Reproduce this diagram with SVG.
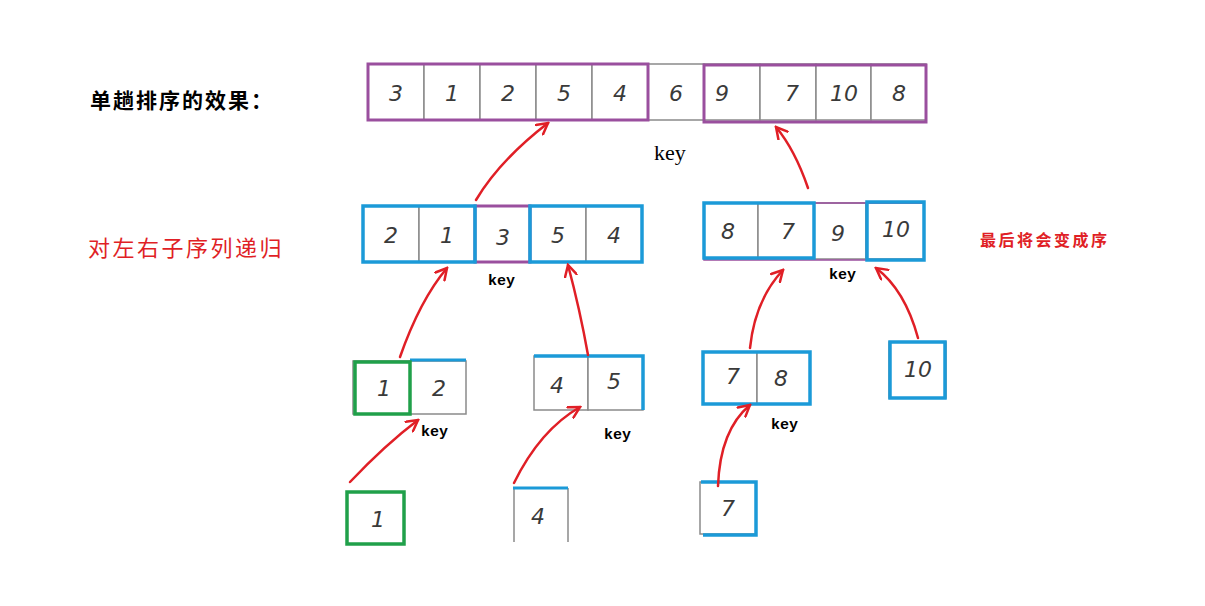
<svg xmlns="http://www.w3.org/2000/svg" width="1205" height="606" viewBox="0 0 1205 606">
<defs>
<style>
.c{fill:#fff;stroke:#8a8a8a;stroke-width:1.5}
.n{font-family:"DejaVu Sans","Liberation Sans",sans-serif;font-size:22px;fill:#3a3a3a;text-anchor:middle;font-style:italic}
.pu{fill:none;stroke:#9a4f9e;stroke-width:3}
.pt{fill:none;stroke:#9a4f9e;stroke-width:1.5}
.bl{fill:none;stroke:#1b9ad8;stroke-width:3.5}
.gr{fill:none;stroke:#20a04a;stroke-width:3.5}
.k{font-family:"Liberation Mono","DejaVu Sans Mono",monospace;font-weight:bold;font-size:15px;fill:#000}
.a{fill:none;stroke:#e01f26;stroke-width:2.5;stroke-linecap:round;marker-end:url(#ah)}
</style>
<marker id="ah" markerWidth="14" markerHeight="14" refX="12" refY="7" orient="auto" markerUnits="userSpaceOnUse">
<path d="M1,1 L12,7 L1,13" fill="none" stroke="#e01f26" stroke-width="2.5" stroke-linecap="round"/>
</marker>
</defs>
<rect width="1205" height="606" fill="#fff"/>
<text x="90" y="108" font-family="Liberation Serif,Noto Sans CJK SC,serif" font-weight="bold" font-size="21" letter-spacing="2" fill="#000">单趟排序的效果：</text>
<text x="88" y="256" font-family="Liberation Serif,Noto Sans CJK SC,serif" font-size="22" letter-spacing="2.5" fill="#e01f26">对左右子序列递归</text>
<text x="980" y="246" font-family="Liberation Serif,Noto Sans CJK SC,serif" font-weight="bold" font-size="16" letter-spacing="2.5" fill="#e01f26">最后将会变成序</text>

<g id="row1">
<rect class="c" x="368" y="64" width="56" height="56"/><text class="n" x="396" y="101">3</text>
<rect class="c" x="424" y="64" width="56" height="56"/><text class="n" x="452" y="101">1</text>
<rect class="c" x="480" y="64" width="56" height="56"/><text class="n" x="508" y="101">2</text>
<rect class="c" x="536" y="64" width="56" height="56"/><text class="n" x="564" y="101">5</text>
<rect class="c" x="592" y="64" width="56" height="56"/><text class="n" x="620" y="101">4</text>
<rect class="c" x="648" y="64" width="56" height="56"/><text class="n" x="676" y="101">6</text>
<rect class="c" x="704" y="64" width="56" height="56"/><text class="n" x="722" y="101">9</text>
<rect class="c" x="760" y="64" width="56" height="56"/><text class="n" x="792" y="101">7</text>
<rect class="c" x="816" y="64" width="55" height="56"/><text class="n" x="844" y="101">10</text>
<rect class="c" x="871" y="64" width="55" height="56"/><text class="n" x="899" y="101">8</text>
<rect class="pu" x="368" y="64" width="280" height="56"/>
<rect class="pu" x="704" y="65" width="222" height="57"/>
<text x="654" y="160" font-family="Liberation Serif,serif" font-size="22" fill="#000">key</text>
</g>

<g id="row2left">
<rect class="c" x="363" y="206" width="56" height="56"/><text class="n" x="391" y="243">2</text>
<rect class="c" x="419" y="206" width="56" height="56"/><text class="n" x="447" y="243">1</text>
<rect class="c" x="475" y="206" width="55" height="56"/><text class="n" x="503" y="245">3</text>
<rect class="c" x="530" y="206" width="56" height="56"/><text class="n" x="558" y="243">5</text>
<rect class="c" x="586" y="206" width="56" height="56"/><text class="n" x="614" y="243">4</text>
<rect class="pu" x="475" y="206" width="55" height="56"/>
<rect class="bl" x="363" y="206" width="112" height="56"/>
<rect class="bl" x="530" y="206" width="112" height="56"/>
<text class="k" x="488" y="285">key</text>
</g>

<g id="row2right">
<rect class="c" x="704" y="203" width="54" height="56"/><text class="n" x="728" y="239">8</text>
<rect class="c" x="758" y="203" width="56" height="56"/><text class="n" x="788" y="239">7</text>
<rect class="c" x="814" y="203" width="52" height="56"/><text class="n" x="838" y="241">9</text>
<rect class="c" x="866" y="203" width="58" height="56"/><text class="n" x="896" y="237">10</text>
<rect class="pt" x="704" y="203" width="220" height="57"/>
<rect class="bl" x="704" y="203" width="110" height="55"/>
<rect class="bl" x="867" y="202" width="57" height="58"/>
<text class="k" x="829" y="279">key</text>
</g>

<g id="row3a">
<rect class="c" x="353" y="361" width="57" height="53"/><text class="n" x="384" y="396">1</text>
<rect class="c" x="410" y="361" width="56" height="53"/><text class="n" x="439" y="396">2</text>
<line x1="410" y1="360" x2="466" y2="360" stroke="#1b9ad8" stroke-width="3"/>
<rect class="gr" x="355" y="362" width="55" height="52"/>
<text class="k" x="421" y="436">key</text>
</g>

<g id="row3b">
<rect class="c" x="534" y="356" width="54" height="54"/><text class="n" x="557" y="393">4</text>
<rect class="c" x="588" y="356" width="55" height="54"/><text class="n" x="614" y="389">5</text>
<path d="M534,356 H643 V410" class="bl"/>
<text class="k" x="604" y="439">key</text>
</g>

<g id="row3c">
<rect class="c" x="703" y="352" width="54" height="52"/><text class="n" x="733" y="384">7</text>
<rect class="c" x="757" y="352" width="53" height="52"/><text class="n" x="781" y="386">8</text>
<rect class="bl" x="703" y="352" width="107" height="52"/>
<text class="k" x="771" y="429">key</text>
</g>

<g id="row3d">
<rect class="c" x="889" y="342" width="57" height="56"/><text class="n" x="918" y="377">10</text>
<rect class="bl" x="890" y="342" width="55" height="56"/>
</g>

<g id="row4a">
<rect class="c" x="347" y="492" width="57" height="52"/><text class="n" x="378" y="527">1</text>
<rect class="gr" x="347" y="492" width="57" height="52"/>
</g>

<g id="row4b">
<path d="M514,542 V488 M568,488 V542" fill="none" stroke="#8a8a8a" stroke-width="1.5"/>
<text class="n" x="538" y="524">4</text>
<line x1="513" y1="488" x2="568" y2="488" stroke="#1b9ad8" stroke-width="3"/>
</g>

<g id="row4c">
<rect class="c" x="700" y="482" width="56" height="52"/><text class="n" x="728" y="516">7</text>
<path d="M701,482 H756 V535 H703" class="bl"/>
</g>

<g id="connectors">
<path class="a" d="M476,200 Q500,160 548,123"/>
<path class="a" d="M808,188 Q795,150 776,127"/>
<path class="a" d="M400,357 Q420,300 447,268"/>
<path class="a" d="M588,355 Q580,310 568,265"/>
<path class="a" d="M350,482 Q385,445 418,420"/>
<path class="a" d="M514,483 Q540,430 580,407"/>
<path class="a" d="M718,486 Q720,430 750,405"/>
<path class="a" d="M750,348 Q755,300 783,270"/>
<path class="a" d="M918,338 Q905,290 876,268"/>
</g>
</svg>
